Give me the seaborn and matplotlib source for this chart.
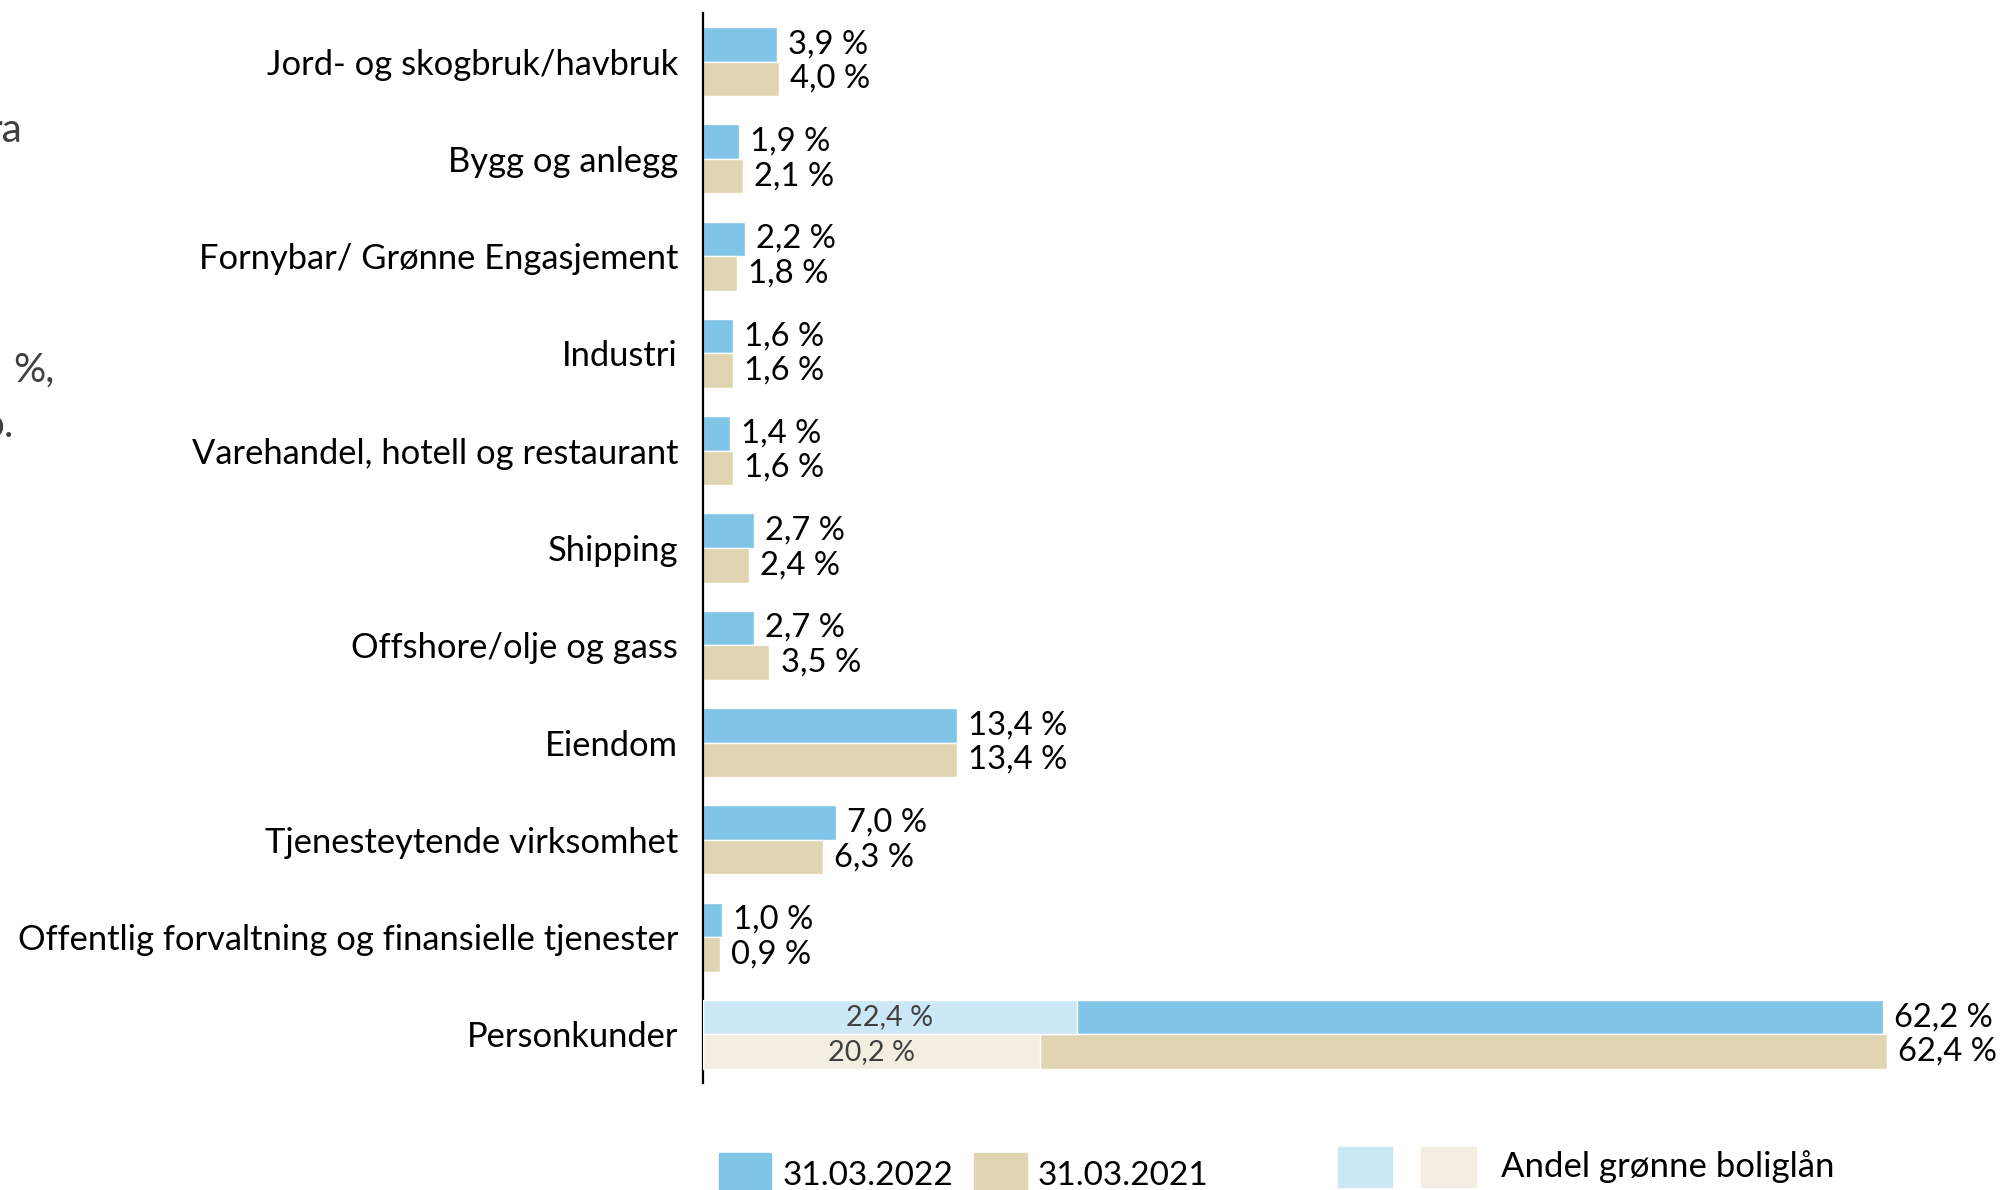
import matplotlib
matplotlib.use("Agg")
import matplotlib.pyplot as plt
from matplotlib.patches import Rectangle
import pandas as pd
import seaborn as sns

# ─── Data ─────────────────────────────────────────────────────────────────────
sektorer = [
    "Jord- og skogbruk/havbruk",
    "Bygg og anlegg",
    "Fornybar/ Grønne Engasjement",
    "Industri",
    "Varehandel, hotell og restaurant",
    "Shipping",
    "Offshore/olje og gass",
    "Eiendom",
    "Tjenesteytende virksomhet",
    "Offentlig forvaltning og finansielle tjenester",
    "Personkunder",
]
andel_2022 = [3.9, 1.9, 2.2, 1.6, 1.4, 2.7, 2.7, 13.4, 7.0, 1.0, 62.2]
andel_2021 = [4.0, 2.1, 1.8, 1.6, 1.6, 2.4, 3.5, 13.4, 6.3, 0.9, 62.4]
datoer = ["31.03.2022", "31.03.2021"]

# andel grønne boliglån (personkunder), samme rekkefølge som datoer
gronne_boliglan = [22.4, 20.2]
GRONN_SKALA = 0.88  # lengden på den lyse delen slik den er tegnet i originalen

farger = ["#80C4E8", "#E0D5B0"]
farger_lys = ["#CCE7F5", "#F3EEE1"]
tekst_gra = "#404040"


def pst(v):
    return f"{v:.1f} %".replace(".", ",")


# ─── Figur ────────────────────────────────────────────────────────────────────
sns.set_theme(style="white")
plt.rcParams["font.family"] = ["Lato", "DejaVu Sans"]

df = pd.DataFrame({
    "sektor": sektorer * 2,
    "dato": [datoer[0]] * len(sektorer) + [datoer[1]] * len(sektorer),
    "andel": andel_2022 + andel_2021,
})

W, H = 2002, 1190
fig = plt.figure(figsize=(W / 100, H / 100), dpi=100)
ax = fig.add_axes([703 / W, 1 - 1083 / H, (W - 703) / W, 1070 / H])

sns.barplot(
    data=df, x="andel", y="sektor", hue="dato", order=sektorer,
    hue_order=datoer, palette=farger, saturation=1, width=0.71,
    orient="h", legend=False, ax=ax,
)

ax.set_xlim(0, 68.48)
ax.set_ylim(10.5, -0.5)
ax.set_xlabel("")
ax.set_ylabel("")
ax.set_xticks([])
for side in ["top", "right", "bottom"]:
    ax.spines[side].set_visible(False)
ax.spines["left"].set_color("black")
ax.spines["left"].set_linewidth(1.6)
ax.tick_params(axis="y", length=0, pad=18, labelsize=24.8, labelcolor="black")

# verdietiketter
for cont, verdier in zip(ax.containers, [andel_2022, andel_2021]):
    ax.bar_label(cont, labels=[pst(v) for v in verdier], padding=8,
                 fontsize=23.6, color="black")

# lys del = andel grønne boliglån på Personkunder
idx = sektorer.index("Personkunder")
for cont, andel, farge in zip(list(ax.containers[:2]), gronne_boliglan, farger_lys):
    p = cont[idx]
    lys = ax.barh(p.get_y() + p.get_height() / 2, andel * GRONN_SKALA,
                  height=p.get_height(), color=farge, zorder=3)
    ax.bar_label(lys, labels=[pst(andel)], label_type="center",
                 fontsize=20.7, color=tekst_gra, zorder=4)

# ─── Forklaring ───────────────────────────────────────────────────────────────
def rute(x0, y0, b, h, farge):
    fig.patches.append(Rectangle((x0 / W, 1 - (y0 + h) / H), b / W, h / H,
                                 transform=fig.transFigure, color=farge,
                                 figure=fig))

rute(719, 1153, 52, 40, farger[0])
fig.text(783 / W, 1 - 1176 / H, datoer[0], fontsize=24, va="center", color="black")
rute(974, 1153, 53, 40, farger[1])
fig.text(1038 / W, 1 - 1176 / H, datoer[1], fontsize=24, va="center", color="black")
rute(1338, 1147, 54, 40, farger_lys[0])
rute(1421, 1147, 55, 40, farger_lys[1])
fig.text(1501 / W, 1 - 1167 / H, "Andel grønne boliglån", fontsize=25,
         va="center", color="black")

# avskåret tekst fra lysbildet til venstre
fig.text(22 / W, 1 - 130 / H, "ra", fontsize=29, ha="right", va="center", color=tekst_gra)
fig.text(13 / W, 1 - 370 / H, "%,", fontsize=29, ha="left", va="center", color=tekst_gra)
fig.text(14 / W, 1 - 425 / H, "o.", fontsize=29, ha="right", va="center", color=tekst_gra)

fig.savefig("out.png", dpi=100)
